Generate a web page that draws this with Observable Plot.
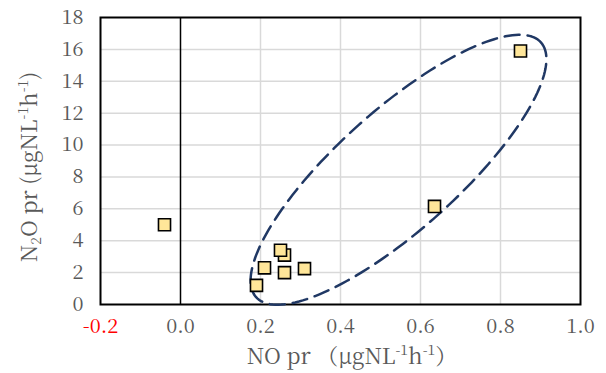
<!DOCTYPE html>
<html><head><meta charset="utf-8">
<script src="https://cdn.jsdelivr.net/npm/d3@7"></script>
<script src="https://cdn.jsdelivr.net/npm/@observablehq/plot@0.6"></script>
<style>body{margin:0;background:#fff}</style>
</head><body><div id="chart"></div>
<script>
const noPr = [-0.04, 0.19, 0.21, 0.26, 0.25, 0.26, 0.31, 0.635, 0.85];
const n2oPr = [5.0, 1.2, 2.3, 3.1, 3.4, 2.0, 2.25, 6.15, 15.9];
const xTicks = [-0.2, 0.0, 0.2, 0.4, 0.6, 0.8, 1.0];
const yTicks = [0, 2, 4, 6, 8, 10, 12, 14, 16, 18];
// ellipse annotation: centre and conjugate half-axes in data units
const ellCenter = [0.545, 8.45];
const ellU = [0.356, 7.99];
const ellV = [0.10, -2.80];

const pts = noPr.map((x, i) => ({x, y: n2oPr[i]}));
const ell = d3.range(0, 361, 2).map(a => {
  const t = a * Math.PI / 180;
  return {x: ellCenter[0] + ellU[0]*Math.cos(t) + ellV[0]*Math.sin(t),
          y: ellCenter[1] + ellU[1]*Math.cos(t) + ellV[1]*Math.sin(t)};
});
const gray = "#595959";
const font = "'Noto Serif CJK JP', 'Liberation Serif', serif";
const chart = Plot.plot({
  width: 606, height: 373,
  marginLeft: 100, marginRight: 26, marginTop: 17, marginBottom: 69,
  style: {fontFamily: font, background: "#fff"},
  x: {domain: [-0.2, 1.0], axis: null},
  y: {domain: [0, 18], axis: null},
  marks: [
    Plot.gridX(xTicks.filter(d => d > 0 && d < 1), {stroke: "#d9d9d9", strokeOpacity: 1, strokeWidth: 1.5}),
    Plot.gridY(yTicks.filter(d => d > 0 && d < 18), {stroke: "#d9d9d9", strokeOpacity: 1, strokeWidth: 1.5}),
    Plot.ruleX([0], {stroke: "#000", strokeWidth: 1.5}),
    Plot.frame({stroke: "#000", strokeWidth: 2}),
    Plot.line(ell, {x: "x", y: "y", stroke: "#203864", strokeWidth: 2.5, strokeDasharray: "15,8", curve: "linear"}),
    Plot.dot(pts, {x: "x", y: "y", symbol: "square", r: 6.8, fill: "#FFE699", stroke: "#000", strokeWidth: 1.6}),
    Plot.text(xTicks, {x: d => d, frameAnchor: "bottom", dy: 28, text: d => d.toFixed(1),
      fill: d => d < 0 ? "#FF0000" : gray, fontSize: 20, fontFamily: font}),
    Plot.text(yTicks, {y: d => d, frameAnchor: "left", dx: -17, textAnchor: "end", text: d => String(d),
      fill: gray, fontSize: 20, fontFamily: font})
  ]
});
document.getElementById("chart").append(chart);
const svg = d3.select(chart);
// x axis title
const xt = svg.append("text").attr("x", 352).attr("y", 364).attr("text-anchor", "middle")
  .attr("fill", gray).attr("font-size", 22).attr("font-family", font);
xt.append("tspan").text("NO pr\u00a0（μgNL");
xt.append("tspan").attr("font-size", 14).attr("dy", -9).text("-1");
xt.append("tspan").attr("dy", 9).text("h");
xt.append("tspan").attr("font-size", 14).attr("dy", -9).text("-1");
xt.append("tspan").attr("dy", 9).text("）");
// y axis title
const yt = svg.append("text").attr("transform", "translate(37,167) rotate(-90)").attr("text-anchor", "middle")
  .attr("fill", gray).attr("font-size", 22).attr("font-family", font);
yt.append("tspan").text("N");
yt.append("tspan").attr("font-size", 14).attr("dy", 4).text("2");
yt.append("tspan").attr("dy", -4).text("O pr (μgNL");
yt.append("tspan").attr("font-size", 14).attr("dy", -9).text("-1");
yt.append("tspan").attr("dy", 9).text("h");
yt.append("tspan").attr("font-size", 14).attr("dy", -9).text("-1");
yt.append("tspan").attr("dy", 9).text(")");
</script></body></html>
